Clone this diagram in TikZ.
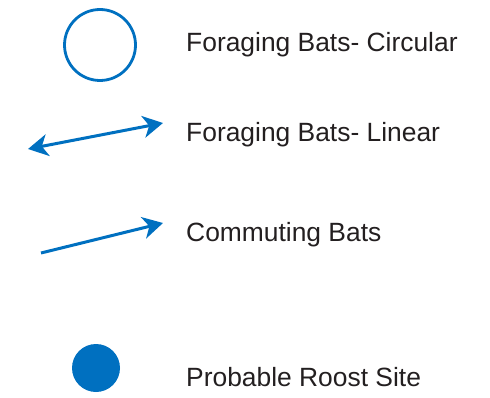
\documentclass[tikz,border=0pt]{standalone}
\usepackage{fontspec}
\setmainfont{Liberation Sans}
\usetikzlibrary{arrows.meta}
\definecolor{batblue}{RGB}{0,112,192}
\definecolor{labelgray}{RGB}{35,31,32}
\tikzset{
  legendtext/.style={anchor=base west, inner sep=0pt, text=labelgray,
    font=\fontsize{26.4pt}{30pt}\selectfont},
  batpath/.style={draw=batblue, line width=3pt,
    -{Stealth[length=20pt, width=22pt, inset=6pt]}},
}
\begin{document}
\begin{tikzpicture}[x=1pt,y=1pt]
  \useasboundingbox (0,0) rectangle (490,397);

  % foraging bats, circular
  \node[circle, draw=batblue, line width=2.8pt, minimum size=71pt, inner sep=0pt] (circ) at (100,352) {};
  \node[legendtext] (tcirc) at (186,345) {Foraging Bats- Circular};

  % foraging bats, linear
  \coordinate (linA) at (28,248);
  \coordinate (linB) at (163,274);
  \draw[batpath, {Stealth[length=20pt, width=22pt, inset=6pt]}-{Stealth[length=20pt, width=22pt, inset=6pt]}] (linA) -- (linB);
  \node[legendtext] (tlin) at (186,255) {Foraging Bats- Linear};

  % commuting bats
  \coordinate (comA) at (41,144);
  \coordinate (comB) at (163,174);
  \draw[batpath] (comA) -- (comB);
  \node[legendtext] (tcom) at (186,155.5) {Commuting Bats};

  % probable roost site
  \node[circle, fill=batblue, minimum size=48pt, inner sep=0pt] (roost) at (96,29) {};
  \node[legendtext] (troost) at (186,10.5) {Probable Roost Site};
\end{tikzpicture}
\end{document}
